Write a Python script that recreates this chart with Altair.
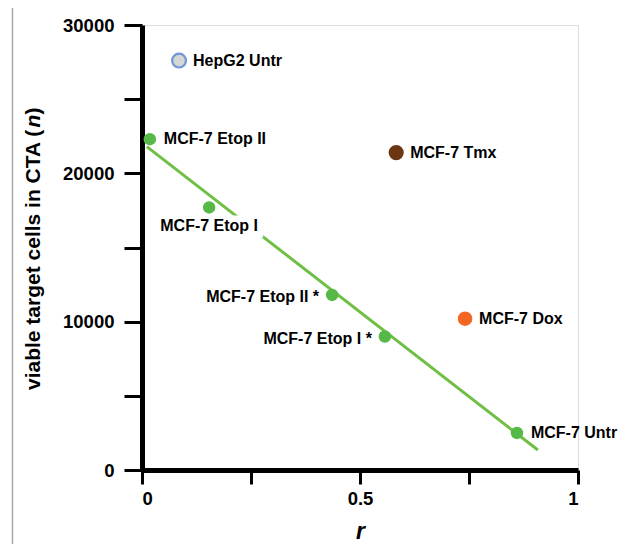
import altair as alt
import pandas as pd

# ---- data ----
names = ["HepG2 Untr", "MCF-7 Etop II", "MCF-7 Etop I", "MCF-7 Etop II *",
         "MCF-7 Etop I *", "MCF-7 Untr", "MCF-7 Tmx", "MCF-7 Dox"]
r_vals = [0.085, 0.018, 0.154, 0.436, 0.557, 0.860, 0.583, 0.741]
n_vals = [27600, 22300, 17700, 11800, 9000, 2500, 21400, 10200]
groups = ["HepG2", "Etop", "Etop", "Etop", "Etop", "Etop", "Tmx", "Dox"]
label_side = ["right", "right", "below", "left", "left", "right", "right", "right"]

fit_r = [0.011, 0.908]
fit_n = [21800, 1350]

x_ticks = [0, 0.25, 0.5, 0.75, 1]
y_ticks = [0, 5000, 10000, 15000, 20000, 25000, 30000]

FONT = "Liberation Sans"
GREEN_DOT = "#56b947"
GREEN_LINE = "#6fbf45"

df = pd.DataFrame({"name": names, "r": r_vals, "n": n_vals,
                   "group": groups, "side": label_side})
fit = pd.DataFrame({"r": fit_r, "n": fit_n})
dummy = pd.DataFrame({"a": [0]})

W, H = 436, 445

xs = alt.X("r:Q", scale=alt.Scale(domain=[0, 1], nice=False),
           axis=alt.Axis(values=x_ticks, grid=False,
                         labelExpr="datum.value == 0 ? '0' : datum.value == 0.5 ? '0.5' : datum.value == 1 ? '1' : ''",
                         domainColor="black", domainWidth=5, tickColor="black",
                         tickWidth=3, tickSize=14, labelFont=FONT, labelFontWeight="bold",
                         labelFontSize=18.5, labelColor="black", labelPadding=5,
                         title="r", titleFont=FONT, titleFontStyle="italic",
                         titleFontWeight="bold", titleFontSize=23, titleColor="black",
                         titleBaseline="bottom", titleY=73))
ys = alt.Y("n:Q", scale=alt.Scale(domain=[0, 30000], nice=False),
           axis=alt.Axis(values=y_ticks, grid=False,
                         labelExpr="datum.value % 10000 == 0 ? '' + datum.value : ''",
                         domainColor="black", domainWidth=5, tickColor="black",
                         tickWidth=3, tickSize=18, labelFont=FONT, labelFontWeight="bold",
                         labelFontSize=18.5, labelColor="black", labelPadding=10,
                         title=None))

base = alt.Chart(df)

line = alt.Chart(fit).mark_line(color=GREEN_LINE, strokeWidth=3).encode(x=xs, y=ys)

gap = base.transform_filter(alt.datum.side == "below").mark_rect(
    width=108, height=22, color="white", yOffset=19).encode(x=xs, y=ys)

green = base.transform_filter(alt.datum.group == "Etop").mark_circle(
    size=155, color=GREEN_DOT, opacity=1).encode(x=xs, y=ys)
tmx = base.transform_filter(alt.datum.group == "Tmx").mark_circle(
    size=230, color="#6b3612", opacity=1).encode(x=xs, y=ys)
dox = base.transform_filter(alt.datum.group == "Dox").mark_circle(
    size=210, color="#f26522", opacity=1).encode(x=xs, y=ys)
hep = base.transform_filter(alt.datum.group == "HepG2").mark_point(
    shape="circle", filled=True, fill="#d6d6d6", stroke="#7094d8",
    strokeWidth=2.2, size=190, opacity=1).encode(x=xs, y=ys)

lab_kw = dict(font=FONT, fontWeight="bold", fontSize=16, color="black", baseline="middle")
lab_right = base.transform_filter(alt.datum.side == "right").mark_text(
    align="left", dx=14, **lab_kw).encode(x=xs, y=ys, text="name:N")
lab_left = base.transform_filter(alt.datum.side == "left").mark_text(
    align="right", dx=-13, dy=2, **lab_kw).encode(x=xs, y=ys, text="name:N")
lab_below = base.transform_filter(alt.datum.side == "below").mark_text(
    align="center", dy=19, **lab_kw).encode(x=xs, y=ys, text="name:N")

# y-axis title with italic n
t_kw = dict(font=FONT, fontWeight="bold", fontSize=21, color="black",
            angle=270, baseline="alphabetic", align="left")
yt1 = alt.Chart(dummy).mark_text(text="viable target cells in CTA (", **t_kw).encode(
    x=alt.value(-102), y=alt.value(365))
yt2 = alt.Chart(dummy).mark_text(text="n", fontStyle="italic", **t_kw).encode(
    x=alt.value(-102), y=alt.value(102.4))
yt3 = alt.Chart(dummy).mark_text(text=")", **t_kw).encode(
    x=alt.value(-102), y=alt.value(89.6))

# thin grey frame of the original figure
frame_left = alt.Chart(dummy).mark_rule(color="#a8a8a8", strokeWidth=1.5).encode(
    x=alt.value(-129.5), y=alt.value(-20.5), y2=alt.value(H + 74))
frame_top = alt.Chart(dummy).mark_rule(color="#a8a8a8", strokeWidth=1.5).encode(
    x=alt.value(-129.5), x2=alt.value(W + 40), y=alt.value(-20.5))

chart = alt.layer(
    frame_left, frame_top, line, gap, green, tmx, dox, hep,
    lab_right, lab_left, lab_below, yt1, yt2, yt3
).properties(
    width=W, height=H,
    autosize=alt.AutoSizeParams(type="none"),
    padding={"left": 134, "top": 17, "right": 40, "bottom": 74},
).configure_view(stroke=None).configure(background="white")

chart.save("out.html", embed_options={"renderer": "svg", "actions": False})
